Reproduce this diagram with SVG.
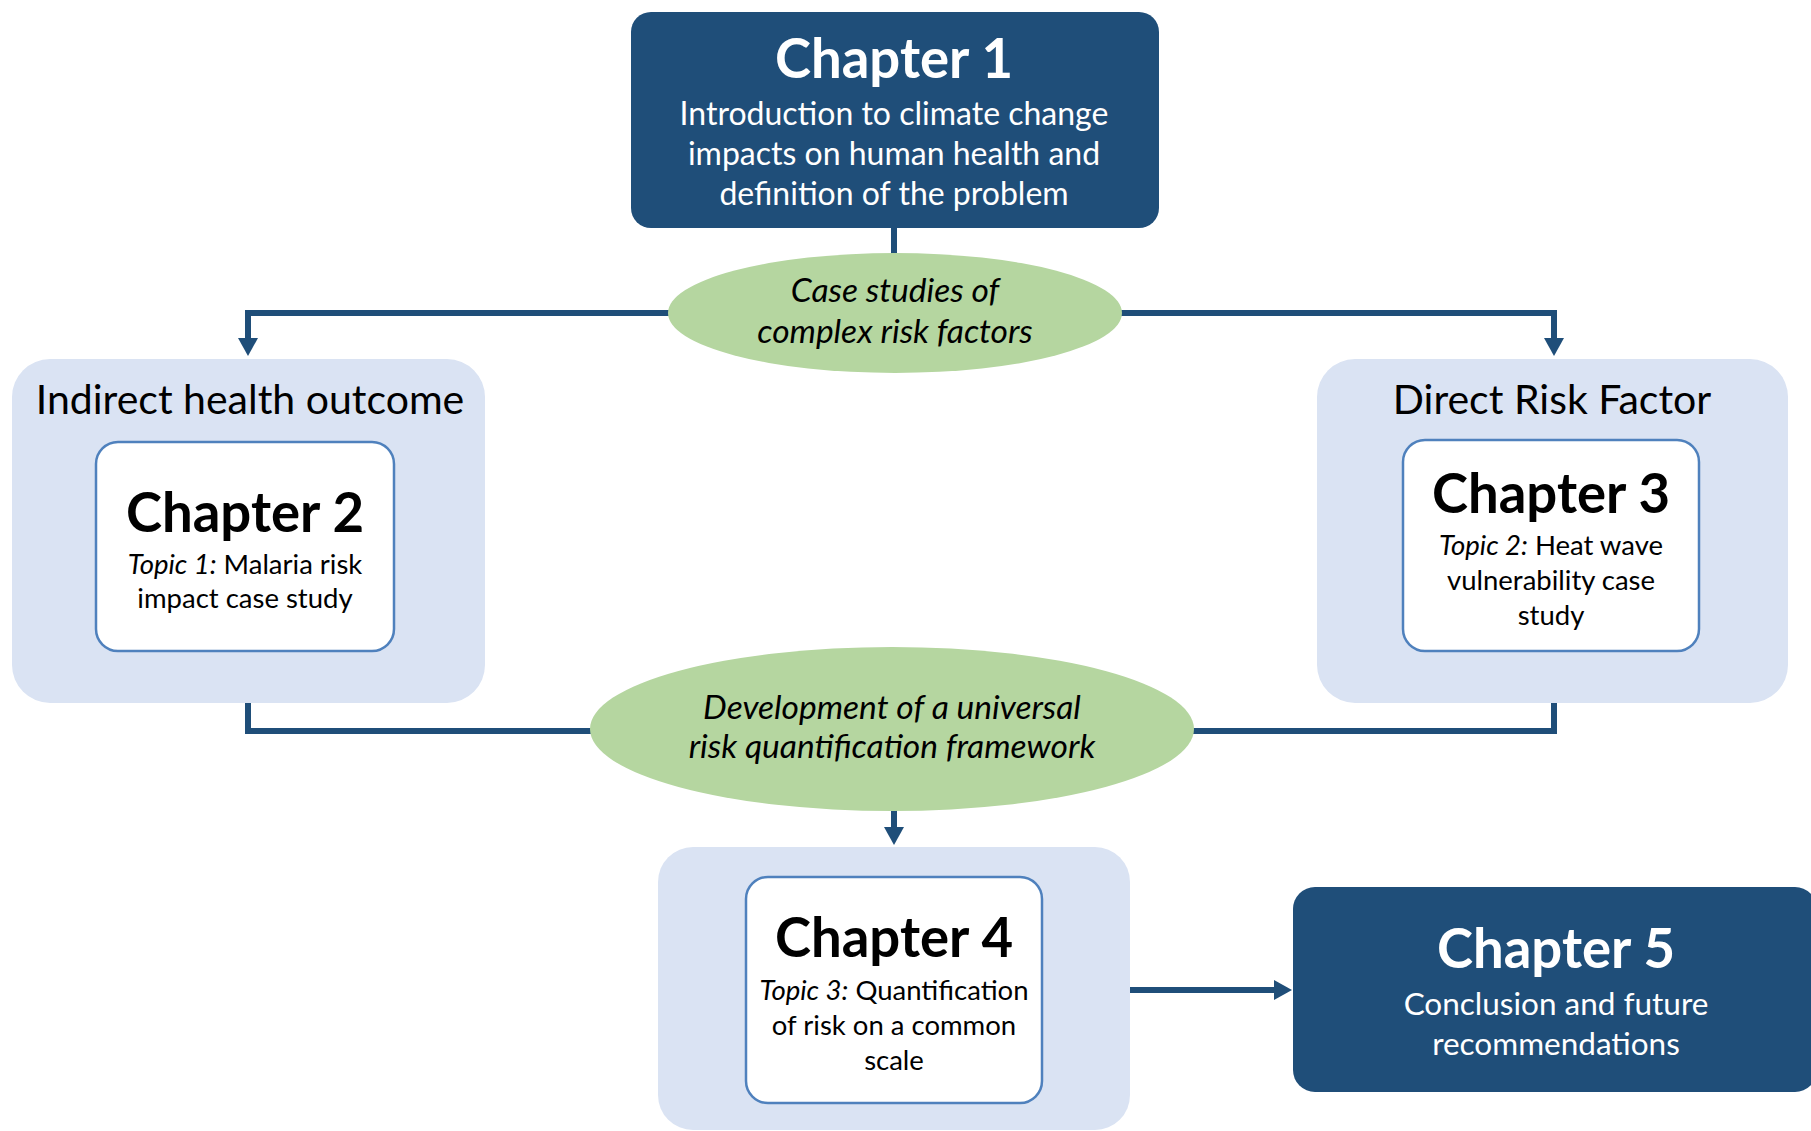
<svg xmlns="http://www.w3.org/2000/svg" width="1811" height="1131" viewBox="0 0 1811 1131">
<defs>
<marker id="arr" viewBox="0 0 18 20" markerWidth="18" markerHeight="20" refX="1" refY="10" orient="auto" markerUnits="userSpaceOnUse">
<path d="M0,0 L18,10 L0,20 z" fill="#1F4E79"/>
</marker>
<style>
.dark{fill:#1F4E79}
.group{fill:#DAE3F3}
.inner{fill:#FFFFFF;stroke:#4F81BD;stroke-width:2.5}
.oval{fill:#B5D6A0}
.conn{fill:none;stroke:#1F4E79;stroke-width:6}
text{font-family:Lato,"Liberation Sans",sans-serif;text-anchor:middle}
.title{font-weight:bold;font-size:54.5px}
.w{fill:#FFFFFF}
.k{fill:#000000}
.body{font-size:32px}
.ov{font-size:33.5px;font-style:italic}
.small{font-size:27.5px}
.head{font-size:41px}
.it{font-style:italic}
</style>
</defs>
<rect width="1811" height="1131" fill="#FFFFFF"/>
<g id="connectors">
<path class="conn" d="M894,226 V256"/>
<path class="conn" d="M672,313 H248 V339" marker-end="url(#arr)"/>
<path class="conn" d="M1118,313 H1554 V339" marker-end="url(#arr)"/>
<path class="conn" d="M248,700 V731 H594"/>
<path class="conn" d="M1554,700 V731 H1190"/>
<path class="conn" d="M894,808 V828" marker-end="url(#arr)"/>
<path class="conn" d="M1128,990 H1275" marker-end="url(#arr)"/>
</g>
<g id="chapter1">
<rect class="dark" x="631" y="12" width="528" height="216" rx="20"/>
<text class="title w" x="894" y="78">Chapter 1</text>
<text class="body w" x="894" y="125">Introduction to climate change</text>
<text class="body w" x="894" y="165">impacts on human health and</text>
<text class="body w" x="894" y="205">definition of the problem</text>
</g>
<g id="case-studies">
<ellipse class="oval" cx="895" cy="313" rx="227" ry="60"/>
<text class="ov k" x="895" y="302">Case studies of</text>
<text class="ov k" x="895" y="343">complex risk factors</text>
</g>
<g id="indirect">
<rect class="group" x="12" y="359" width="473" height="344" rx="38"/>
<text class="head k" x="250" y="414">Indirect health outcome</text>
</g>
<g id="chapter2">
<rect class="inner" x="96" y="442" width="298" height="209" rx="22"/>
<text class="title k" x="245" y="532">Chapter 2</text>
<text class="small k" x="245" y="574"><tspan class="it">Topic 1:</tspan> Malaria risk</text>
<text class="small k" x="245" y="608">impact case study</text>
</g>
<g id="direct">
<rect class="group" x="1317" y="359" width="471" height="344" rx="38"/>
<text class="head k" x="1552" y="414">Direct Risk Factor</text>
</g>
<g id="chapter3">
<rect class="inner" x="1403" y="440" width="296" height="211" rx="22"/>
<text class="title k" x="1551" y="513">Chapter 3</text>
<text class="small k" x="1551" y="555"><tspan class="it">Topic 2:</tspan> Heat wave</text>
<text class="small k" x="1551" y="590">vulnerability case</text>
<text class="small k" x="1551" y="625">study</text>
</g>
<g id="framework">
<ellipse class="oval" cx="892" cy="729" rx="302" ry="82"/>
<text class="ov k" x="892" y="719">Development of a universal</text>
<text class="ov k" x="892" y="758">risk quantification framework</text>
</g>
<g id="chapter4-group">
<rect class="group" x="658" y="847" width="472" height="283" rx="35"/>
</g>
<g id="chapter4">
<rect class="inner" x="746" y="877" width="296" height="226" rx="22"/>
<text class="title k" x="894" y="957">Chapter 4</text>
<text class="small k" x="894" y="1000"><tspan class="it">Topic 3:</tspan> Quantification</text>
<text class="small k" x="894" y="1035">of risk on a common</text>
<text class="small k" x="894" y="1070">scale</text>
</g>
<g id="chapter5">
<rect class="dark" x="1293" y="887" width="524" height="205" rx="22"/>
<text class="title w" x="1556" y="968">Chapter 5</text>
<text class="body w" x="1556" y="1015" style="font-size:31.5px">Conclusion and future</text>
<text class="body w" x="1556" y="1055" style="font-size:31.5px">recommendations</text>
</g>
</svg>
